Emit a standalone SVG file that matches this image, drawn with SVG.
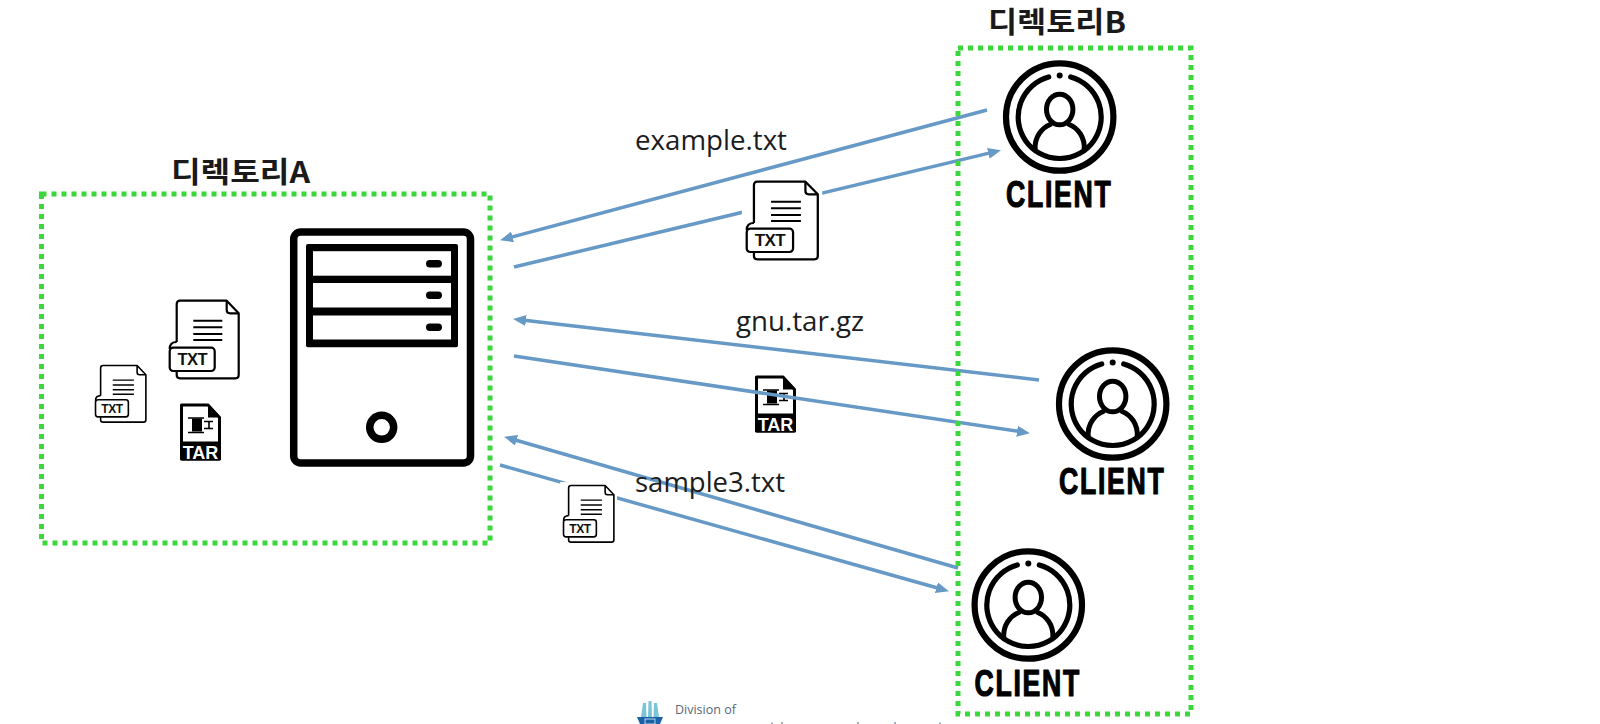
<svg xmlns="http://www.w3.org/2000/svg" width="1600" height="724" viewBox="0 0 1600 724">
<style>
.box{fill:none;stroke:#3ad83a;stroke-width:5;stroke-dasharray:5 5}
.conn{fill:none;stroke:#6699c6;stroke-width:3.5;marker-end:url(#arrow)}
.title{font-family:"Noto Sans CJK KR","Noto Sans",sans-serif;font-weight:700;font-size:29px;fill:#1a1a1a}
.label{font-family:"Open Sans","Noto Sans",sans-serif;font-size:28px;fill:#1c1c1c}
.client{font-family:"Liberation Sans",sans-serif;font-weight:700;font-size:37px;fill:#000;stroke:#000;stroke-width:1.2;stroke-linejoin:round;letter-spacing:2.4px}
.txt{font-family:"Liberation Sans",sans-serif;font-weight:700;font-size:16.5px;fill:#111}
.tar{font-family:"Liberation Sans",sans-serif;font-weight:700;font-size:18px;fill:#fff}
.dark{fill:none;stroke:#000;stroke-linecap:round;stroke-linejoin:round}
</style>
<defs>
<marker id="arrow" markerUnits="userSpaceOnUse" markerWidth="14" markerHeight="12" refX="4" refY="5.5" orient="auto"><path d="M0,0 L13,5.5 L0,11 Z" fill="#6699c6"/></marker>
<g id="txtIcon">
<rect x="-4" y="-4" width="78" height="86" fill="#fff"/>
<path d="M7.7,42 V4 Q7.7,.7 11,.7 H57.7 L69.7,13.3 V75 Q69.7,78.3 66.500,78.3 H11 Q7.7,78.3 7.7,75 V71" fill="#fff" stroke="#000" stroke-width="2.2" stroke-linejoin="round"/>
<path d="M57.7,.7 V10 Q57.7,13.3 61,13.3 H69.7" fill="none" stroke="#000" stroke-width="2.2"/>
<path d="M24.3,20.7 H53.3 M24.3,27.3 H53.3 M24.3,34 H53.3 M24.3,40 H53.3" stroke="#000" stroke-width="2" fill="none"/>
<path d="M7.7,42 Q.7,42 .7,49" fill="none" stroke="#000" stroke-width="2.2"/>
<rect x=".7" y="47.7" width="45" height="23.3" rx="3.500" fill="#fff" stroke="#000" stroke-width="2.2"/>
</g>
<g id="tarIcon">
<path d="M1.500,1.500 H28 L39.500,14 V55.500 H1.500 Z" fill="#fff" stroke="#000" stroke-width="3" stroke-linejoin="round"/>
<path d="M28,0 L41,14 H28 Z" fill="#000"/>
<rect x="0" y="38" width="41" height="19" rx="2" fill="#000"/>
<rect x="12" y="15" width="10" height="13" fill="#000"/>
<path d="M8,14.500 H24 M8,29 H24 M24,18 H33 M24,25 H33 M29,18 V25" stroke="#000" stroke-width="1.600" fill="none"/>
</g>
<g id="clientIcon">
<circle r="53.7" fill="#fff" stroke="#000" stroke-width="6.2"/>
<path d="M-11,-40 A41.500,41.500 0 1 0 11,-40" class="dark" stroke-width="5.2"/>
<circle cy="-41.500" r="3" fill="#000"/>
<ellipse cy="-7.500" rx="13.200" ry="15.300" fill="none" stroke="#000" stroke-width="5"/>
<path d="M-24.500,33 C-25.500,20 -18,11 -9.500,7.500 M9.500,7.500 C18,11 25.500,20 24.500,33" class="dark" stroke-width="5"/>
</g>
</defs>
<rect width="1600" height="724" fill="#fff"/>

<g id="file-tar-server"><use href="#tarIcon" x="180" y="403.500"/><text class="tar" x="200.500" y="458.500" text-anchor="middle">TAR</text></g>
<g id="file-tar-transfer"><use href="#tarIcon" x="755" y="375.500"/><text class="tar" x="775.500" y="430.500" text-anchor="middle">TAR</text></g>

<g id="connectors">
<line class="conn" x1="987" y1="110" x2="508.700" y2="237.900"/>
<line class="conn" x1="514" y1="267" x2="992.200" y2="152.400"/>
<line class="conn" x1="1039" y1="380" x2="522" y2="320"/>
<line class="conn" x1="514" y1="356" x2="1021" y2="431.800"/>
<line class="conn" x1="958" y1="568" x2="512.700" y2="439.200"/>
<line class="conn" x1="500" y1="465" x2="940.300" y2="588.800"/>
</g>

<g id="box-a"><rect class="box" x="41.500" y="194" width="448.500" height="349"/></g>
<g id="box-b"><rect class="box" x="958" y="48" width="233" height="666"/></g>

<g id="server">
<rect x="293.700" y="232" width="176.800" height="231" rx="7" fill="#fff" stroke="#000" stroke-width="7.500"/>
<rect x="306" y="244" width="152" height="103.300" rx="2" fill="#000"/>
<rect x="313" y="251.200" width="138" height="24.500" fill="#fff"/>
<rect x="313" y="283" width="138" height="24.500" fill="#fff"/>
<rect x="313" y="315.500" width="138" height="24" fill="#fff"/>
<rect x="426" y="260" width="16" height="7.500" rx="3.700" fill="#000"/>
<rect x="426" y="291.500" width="16" height="7.500" rx="3.700" fill="#000"/>
<rect x="426" y="323.500" width="16" height="7.500" rx="3.700" fill="#000"/>
<circle cx="381.700" cy="427.300" r="12" fill="#fff" stroke="#000" stroke-width="7.500"/>
</g>

<g id="file-txt-large" transform="translate(169,300)"><use href="#txtIcon"/><text class="txt" x="23.500" y="65.300" text-anchor="middle" textLength="30" lengthAdjust="spacing">TXT</text></g>
<g id="file-txt-small" transform="translate(95,365) scale(.73)"><use href="#txtIcon"/><text class="txt" x="23.500" y="65.300" text-anchor="middle" textLength="30" lengthAdjust="spacing">TXT</text></g>
<g id="file-txt-top" transform="translate(746,181) scale(1.03,1)"><use href="#txtIcon"/><text class="txt" x="23.500" y="65.300" text-anchor="middle" textLength="30" lengthAdjust="spacing">TXT</text></g>
<g id="file-txt-bottom" transform="translate(563,485) scale(.73)"><use href="#txtIcon"/><text class="txt" x="23.500" y="65.300" text-anchor="middle" textLength="30" lengthAdjust="spacing">TXT</text></g>

<g id="client-1"><use href="#clientIcon" x="1059.700" y="117"/><text class="client" transform="translate(1006,207) scale(.72,1)">CLIENT</text></g>
<g id="client-2"><use href="#clientIcon" x="1112.700" y="404"/><text class="client" transform="translate(1059,494) scale(.72,1)">CLIENT</text></g>
<g id="client-3"><use href="#clientIcon" x="1028.300" y="605"/><text class="client" transform="translate(974.500,695.500) scale(.72,1)">CLIENT</text></g>

<text class="title" x="171" y="183" textLength="139" lengthAdjust="spacingAndGlyphs">디렉토리A</text>
<text class="title" x="988" y="33" textLength="138" lengthAdjust="spacingAndGlyphs">디렉토리B</text>
<text class="label" x="635" y="150" textLength="152" lengthAdjust="spacingAndGlyphs">example.txt</text>
<text class="label" x="736" y="331" textLength="128" lengthAdjust="spacingAndGlyphs">gnu.tar.gz</text>
<text class="label" x="635" y="491.500" textLength="150" lengthAdjust="spacingAndGlyphs">sample3.txt</text>

<g id="logo">
<path d="M641,717 L643,703 H646 L646.500,717 Z M648,717 L648.500,701 H651.500 L652,717 Z M653.500,717 L654,703 H657 L659,717 Z" fill="#7cc4d8"/>
<path d="M637,717 H663 L660,724 H640 Z" fill="#1a62a8"/>
<rect x="645" y="719" width="10" height="5" fill="none" stroke="#bcd6ea" stroke-width="1"/>
<text x="675" y="714" font-family="'Open Sans','Noto Sans',sans-serif" font-size="12.500" fill="#566878">Division of</text>
<path d="M772,722.500 V724 M782,722 V724 M858,722 V724 M895,722 V724 M940,722.500 V724" stroke="#8a97a3" stroke-width="1.500"/>
</g>
</svg>
